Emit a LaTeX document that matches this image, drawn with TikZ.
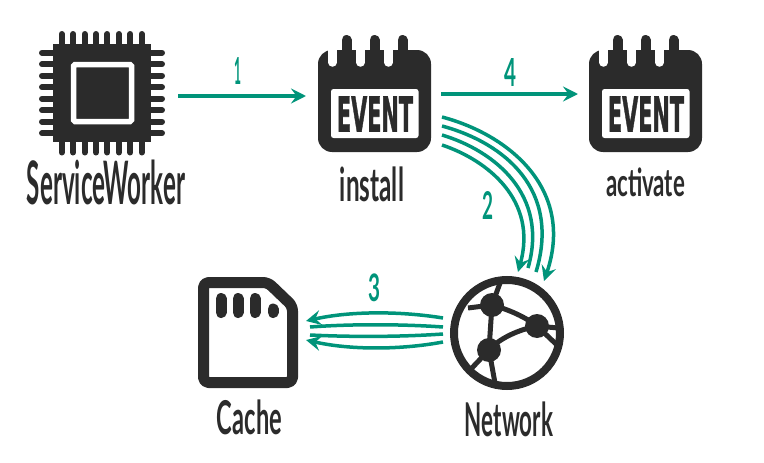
\documentclass[tikz,border=0pt]{standalone}
\usepackage{fontspec}
\usepackage{graphicx}
\setmainfont{Lato}
\newfontfamily\evfont[FakeBold=1.5]{DejaVu Sans}
\usetikzlibrary{arrows.meta}
\definecolor{ink}{HTML}{2B2B2B}
\definecolor{flowc}{HTML}{00947A}
\newcommand{\fit}[3]{\resizebox*{#1pt}{#2pt}{#3}}
\tikzset{
  x=1pt,y=-1pt,
  lab/.style={inner sep=0pt,outer sep=0pt,text=ink,font=\bfseries},
  num/.style={inner sep=0pt,outer sep=0pt,text=flowc,font=\bfseries},
  flow/.style={draw=flowc,line width=3.5pt},
  flowa/.style={flow,-{Stealth[length=15pt,width=15pt,inset=5.5pt]}},
  eventicon/.pic={
    \fill[ink,rounded corners=14pt] (-56.5,-51) rectangle (56.5,51);
    \foreach \dx in {-28,0,28}{
      \draw[white,line width=8.5pt,line cap=round] (\dx-14,-60)--(\dx-14,-38.5);
      \draw[ink,line width=10pt,line cap=round] (\dx,-61)--(\dx,-40);
      \fill[white] (\dx-18.2,-62) rectangle (\dx-9.8,-51);
    }
    \fill[white,rounded corners=2.5pt] (-43.5,-12) rectangle (44,37);
    \node[inner sep=0pt,text=ink] at (0.5,13) {\fit{76}{35}{\evfont\bfseries EVENT}};
  }
}
\begin{document}
\begin{tikzpicture}
\useasboundingbox (0,0) rectangle (764,463);
% chip
\foreach \i in {0,...,7}{
  \draw[ink,line width=6pt,line cap=round] (61.7+11.43*\i,34)--(61.7+11.43*\i,152.5);
  \draw[ink,line width=6pt,line cap=round] (42,52.7+11.5*\i)--(162,52.7+11.5*\i);
}
\fill[ink] (53,44) rectangle (151,142);
\draw[white,line width=5.5pt,rounded corners=1.5pt] (73.5,64.5) rectangle (131.5,121.5);
\node[inner sep=0pt,minimum width=98pt,minimum height=98pt] (sw) at (102,93) {};
% event icons
\node[inner sep=0pt,minimum width=113pt,minimum height=102pt] (install) at (374.5,101) {};
\pic at (install.center) {eventicon};
\node[inner sep=0pt,minimum width=113pt,minimum height=102pt] (activate) at (645.5,101) {};
\pic at (activate.center) {eventicon};
% card
\draw[ink,line width=11pt,line join=round,rounded corners=5pt] (203.5,282.5)--(268,282.5)--(292.5,306)--(292.5,382.5)--(203.5,382.5)--cycle;
\foreach \px in {221,238,255}{\draw[ink,line width=11pt,line cap=round] (\px,298.5)--(\px,312.5);}
\draw[ink,line width=11pt,line cap=round] (273,309)--(273,312.5);
\node[inner sep=0pt,minimum width=100pt,minimum height=111pt] (cache) at (248,332.5) {};
% globe
\node[circle,inner sep=0pt,minimum size=106pt,draw=ink,line width=8pt] (net) at (507,333) {};
\fill[ink] (492,305) circle (12) (537,326) circle (12) (489,350) circle (12);
\draw[ink,line width=5pt] (492,305)--(500,283) (492,305)--(468,308) (492,305)--(489,350)
  (489,350)--(470,370) (489,350)--(495,383) (537,326)--(558,328) (537,326)--(557,345);
\draw[ink,line width=5pt] (492,305) .. controls (510,310) and (525,317) .. (537,326);
\draw[ink,line width=5pt] (489,350) .. controls (500,338) and (518,330) .. (537,326);
% labels
\node[lab] (lsw) at (106,182) {\fit{158}{45}{ServiceWorker}};
\node[lab] (linst) at (372,184.5) {\fit{64}{35}{install}};
\node[lab] (lact) at (645.5,182.5) {\fit{79}{29}{activate}};
\node[lab] (lcache) at (249.5,417.5) {\fit{65}{35}{Cache}};
\node[lab] (lnet) at (509,419.5) {\fit{88}{35}{Network}};
% connector ends
\coordinate (a1s) at (178,96); \coordinate (a1e) at (306,96);
\coordinate (a4s) at (441,94); \coordinate (a4e) at (578,94);
\coordinate (b1s) at (442,117); \coordinate (b1e) at (544,281);
\coordinate (b2s) at (442,126); \coordinate (b2e) at (536,272);
\coordinate (b3s) at (442,135); \coordinate (b3e) at (528,268);
\coordinate (b4s) at (442,145); \coordinate (b4e) at (518,272);
\coordinate (c1s) at (443,318); \coordinate (c1e) at (306,321);
\coordinate (c2s) at (443,327); \coordinate (c2e) at (310,327);
\coordinate (c3s) at (443,334); \coordinate (c3e) at (310,335);
\coordinate (c4s) at (443,342); \coordinate (c4e) at (306,340);
\draw[flowa] (a1s)--(a1e);
\draw[flowa] (a4s)--(a4e);
\draw[flowa] (b1s) .. controls (510,135) and (575,190) .. (b1e);
\draw[flow] (b2s) .. controls (505,143) and (561,190) .. (b2e);
\draw[flow] (b3s) .. controls (495,151) and (549,195) .. (b3e);
\draw[flowa] (b4s) .. controls (487,160) and (538,200) .. (b4e);
\draw[flowa] (c1s) .. controls (400,311) and (350,311) .. (c1e);
\draw[flow] (c2s) .. controls (400,324) and (350,324) .. (c2e);
\draw[flow] (c3s) .. controls (400,337) and (350,337) .. (c3e);
\draw[flowa] (c4s) .. controls (400,350) and (350,350) .. (c4e);
\node[num] (n1) at (238,71) {\fit{7}{27}{1}};
\node[num] (n4) at (510,72) {\fit{12}{28}{4}};
\node[num] (n2) at (488,205) {\fit{11}{28}{2}};
\node[num] (n3) at (374,288) {\fit{12}{28}{3}};
\end{tikzpicture}
\end{document}
